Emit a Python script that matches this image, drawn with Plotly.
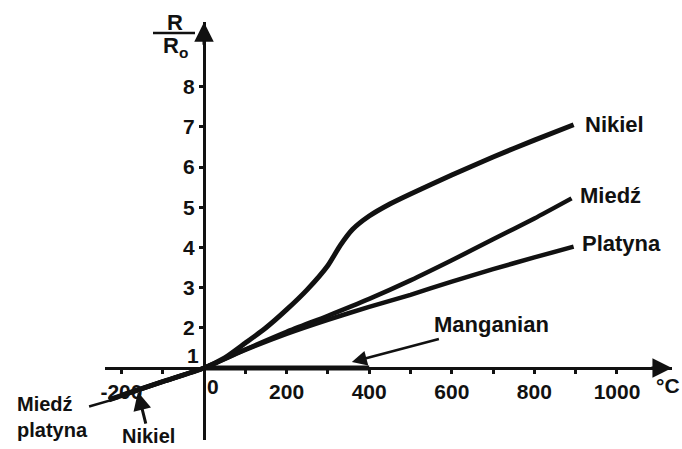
import plotly.graph_objects as go

# ---- data ----
nikiel_t = [-200, -100, 0, 50, 100, 150, 200, 250, 300, 330, 360, 400, 450, 500, 600, 700, 800, 895]
nikiel_r = [0.32, 0.66, 1.0, 1.25, 1.62, 2.0, 2.45, 2.95, 3.55, 4.05, 4.45, 4.78, 5.08, 5.33, 5.8, 6.25, 6.67, 7.05]

miedz_t = [-230, -100, 0, 100, 200, 300, 400, 500, 600, 700, 800, 890]
miedz_r = [0.2, 0.66, 1.0, 1.46, 1.9, 2.3, 2.72, 3.18, 3.68, 4.2, 4.72, 5.22]

platyna_t = [-230, -100, 0, 100, 200, 300, 400, 500, 600, 700, 800, 895]
platyna_r = [0.22, 0.66, 1.0, 1.45, 1.85, 2.2, 2.52, 2.82, 3.15, 3.46, 3.75, 4.02]

manganian_t = [0, 100, 200, 300, 400]
manganian_r = [1.0, 1.0, 1.0, 1.0, 1.0]

x_tickvals = [-200, -100, 100, 200, 300, 400, 500, 600, 700, 800, 900, 1000]
x_ticktext = ["-200", "", "", "200", "", "400", "", "600", "", "800", "", "1000"]
y_tickvals = [2, 3, 4, 5, 6, 7, 8]
y_ticktext = ["2", "3", "4", "5", "6", "7", "8"]

INK = "#111111"
FONT = "Liberation Sans"

fig = go.Figure()
for t, r, w in [(miedz_t, miedz_r, 4.5), (platyna_t, platyna_r, 4.5),
                (nikiel_t, nikiel_r, 5), (manganian_t, manganian_r, 5)]:
    fig.add_trace(go.Scatter(x=t, y=r, mode="lines",
                             line=dict(color=INK, width=w, shape="spline", smoothing=0.6),
                             hoverinfo="skip", cliponaxis=False))

lab_font = dict(family=FONT, size=22, color=INK, weight="bold")
small_font = dict(family=FONT, size=20, color=INK, weight="bold")
ann = []
# end-of-line labels
ann.append(dict(x=nikiel_t[-1], y=nikiel_r[-1], text="Nikiel", xanchor="left", yanchor="middle",
                xshift=9, showarrow=False, font=lab_font))
ann.append(dict(x=miedz_t[-1], y=miedz_r[-1], text="Miedź", xanchor="left", yanchor="middle",
                xshift=6, yshift=3, showarrow=False, font=lab_font))
ann.append(dict(x=platyna_t[-1], y=platyna_r[-1], text="Platyna", xanchor="left", yanchor="middle",
                xshift=6, yshift=3, showarrow=False, font=lab_font))
# Manganian with arrow
ann.append(dict(x=manganian_t[-1] - 42, y=1.15, text="Manganian", showarrow=True,
                ax=140, ay=-37, arrowhead=2, arrowsize=1.2, arrowwidth=2.5, arrowcolor=INK,
                font=lab_font))
# Miedź platyna leader
ann.append(dict(x=-208, y=0.25, text="Miedź<br>platyna", align="left", showarrow=True,
                ax=-66, ay=19, arrowhead=0, arrowwidth=2.5, arrowcolor=INK,
                font=small_font))
# Nikiel (low) with arrow
ann.append(dict(x=-160, y=0.4, text="Nikiel", showarrow=True,
                ax=11, ay=44, arrowhead=2, arrowsize=1.2, arrowwidth=3, arrowcolor=INK,
                font=small_font))
# special tick labels near the origin
tick_font = dict(family=FONT, size=21, color=INK, weight="bold")
ann.append(dict(x=0, y=1, text="0", showarrow=False, xshift=9, yshift=-18, font=tick_font))
ann.append(dict(x=0, y=1, text="1", showarrow=False, xshift=-11, yshift=13, font=tick_font))
# axis arrowheads
ann.append(dict(x=1133, y=1, text="", showarrow=True, ax=-22, ay=0, arrowhead=2,
                arrowsize=1.3, arrowwidth=3, arrowcolor=INK))
ann.append(dict(x=0, y=9.6, text="", showarrow=True, ax=0, ay=24, arrowhead=2,
                arrowsize=1.3, arrowwidth=3, arrowcolor=INK))
# axis titles
ann.append(dict(xref="paper", yref="paper", x=654 / 682, y=(449 - 385) / 449, text="°C",
                xanchor="left", yanchor="middle", showarrow=False, font=tick_font))
ann.append(dict(xref="paper", yref="paper", x=175 / 682, y=(449 - 22) / 449, text="R",
                xanchor="center", yanchor="middle",
                showarrow=False, font=dict(family=FONT, size=22, color=INK, weight="bold")))
ann.append(dict(xref="paper", yref="paper", x=175 / 682, y=(449 - 47) / 449, text="R<sub>o</sub>",
                xanchor="center", yanchor="middle",
                showarrow=False, font=dict(family=FONT, size=22, color=INK, weight="bold")))

fig.update_layout(
    width=682, height=449,
    margin=dict(l=0, r=0, t=0, b=0, autoexpand=False),
    paper_bgcolor="white", plot_bgcolor="white",
    showlegend=False,
    annotations=ann,
    shapes=[dict(type="line", xref="paper", yref="paper",
                 x0=153 / 682, x1=195 / 682, y0=(449 - 33) / 449, y1=(449 - 33) / 449,
                 line=dict(color=INK, width=2.5))],
    xaxis=dict(range=[-239.7, 1133.2], domain=[105 / 682, 672 / 682],
               anchor="free", position=(449 - 368) / 449, automargin=False,
               showline=True, linewidth=3, linecolor=INK,
               showgrid=False, zeroline=False,
               tickvals=x_tickvals, ticktext=x_ticktext,
               ticks="outside", ticklen=4, tickwidth=3, tickcolor=INK,
               tickfont=tick_font),
    yaxis=dict(range=[-0.791, 9.607], domain=[(449 - 440) / 449, (449 - 22) / 449],
               anchor="free", position=204 / 682, automargin=False,
               showline=True, linewidth=3, linecolor=INK,
               showgrid=False, zeroline=False,
               tickvals=y_tickvals, ticktext=y_ticktext,
               ticks="outside", ticklen=4, tickwidth=3, tickcolor=INK,
               tickfont=tick_font),
)

fig.write_html("out.html", config={"displayModeBar": False},
               post_script="document.body.style.margin='0px';document.body.style.overflow='hidden';")
